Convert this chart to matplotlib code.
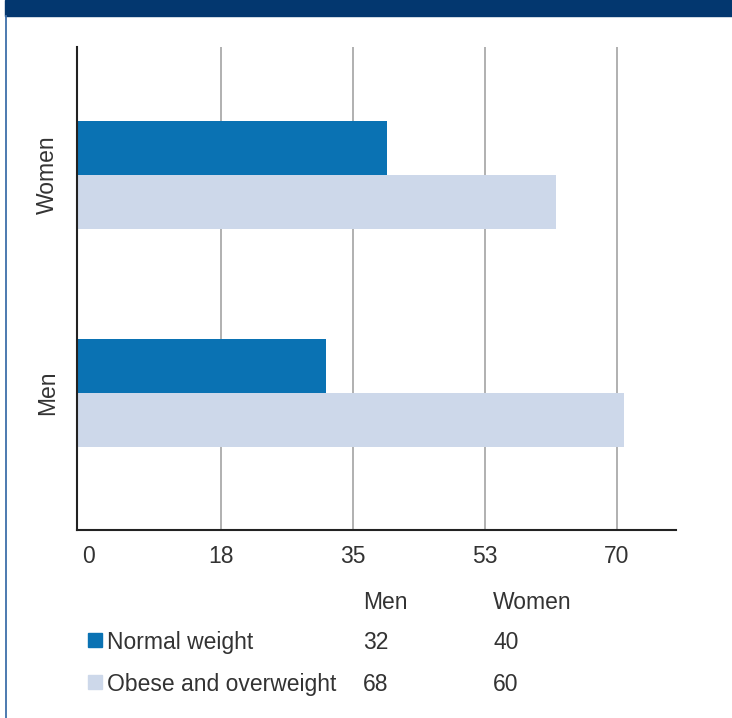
import matplotlib.pyplot as plt
from matplotlib.patches import Rectangle

# categories (bottom to top) and bar lengths
groups = ['Men', 'Women']
normal_bar = [31.5, 39.5]
obese_bar = [71, 62]

# values shown in the table under the chart
table_cols = ['Men', 'Women']
table_rows = ['Normal weight', 'Obese and overweight']
table_vals = [['32', '40'], ['68', '60']]

tick_vals = [0, 17.5, 35, 52.5, 70]
tick_text = ['0', '18', '35', '53', '70']

c_normal = '#0A72B3'
c_obese = '#CDD8EA'
c_text = '#333333'
W, H = 732, 718

plt.rcParams['font.family'] = ['Liberation Sans', 'DejaVu Sans']

fig = plt.figure(figsize=(W / 100, H / 100), dpi=100)


def fx(x):
    return x / W


def fy(y):
    return 1 - y / H


# top banner and left border
fig.patches.append(Rectangle((fx(5), fy(16)), 1, 16 / H, transform=fig.transFigure,
                             color='#03376F', zorder=0))
fig.add_artist(plt.Line2D([fx(6), fx(6)], [0, fy(16)], transform=fig.transFigure,
                          color='#3E6FA9', lw=1.3))

ax = fig.add_axes([fx(77), fy(530), 599 / W, 483 / H])
xmin, xmax = -1.55, 77.86
h = 0.248
y = list(range(len(groups)))

ax.barh([v + h / 2 for v in y], [v - xmin for v in normal_bar], left=xmin,
        height=h, color=c_normal, zorder=2)
ax.barh([v - h / 2 for v in y], [v - xmin for v in obese_bar], left=xmin,
        height=h, color=c_obese, zorder=2)

ax.set_xlim(xmin, xmax)
ax.set_ylim(-0.628, 1.587)
ax.set_xticks(tick_vals)
ax.set_xticklabels(tick_text, fontsize=16.5, color=c_text)
ax.set_yticks(y)
ax.set_yticklabels(groups, rotation=90, va='center', fontsize=16.5, color=c_text)
ax.tick_params(axis='x', length=0, pad=11)
ax.tick_params(axis='y', length=0, pad=13)

ax.grid(axis='x', color='#AAAAAA', lw=1.3, zorder=1)
ax.xaxis.get_gridlines()[0].set_visible(False)
ax.set_axisbelow(True)

for s in ['top', 'right']:
    ax.spines[s].set_visible(False)
for s in ['left', 'bottom']:
    ax.spines[s].set_color('#222222')
    ax.spines[s].set_linewidth(1.5)
    ax.spines[s].set_zorder(3)

# table below the chart
col_x = [363, 493]
row_y = [640, 682]
for cx, name in zip(col_x, table_cols):
    fig.text(fx(cx), fy(600), name, fontsize=16.5, color=c_text, va='center_baseline')

for i, (ry, name, col) in enumerate(zip(row_y, table_rows, [c_normal, c_obese])):
    fig.patches.append(Rectangle((fx(88), fy(ry + 7)), 14 / W, 14 / H,
                                 transform=fig.transFigure, color=col))
    fig.text(fx(107), fy(ry), name, fontsize=16.5, color=c_text, va='center_baseline')
    for cx, val in zip(col_x, table_vals[i]):
        fig.text(fx(cx), fy(ry), val, fontsize=16.5, color=c_text, va='center_baseline')

fig.savefig('out.png', dpi=100)
